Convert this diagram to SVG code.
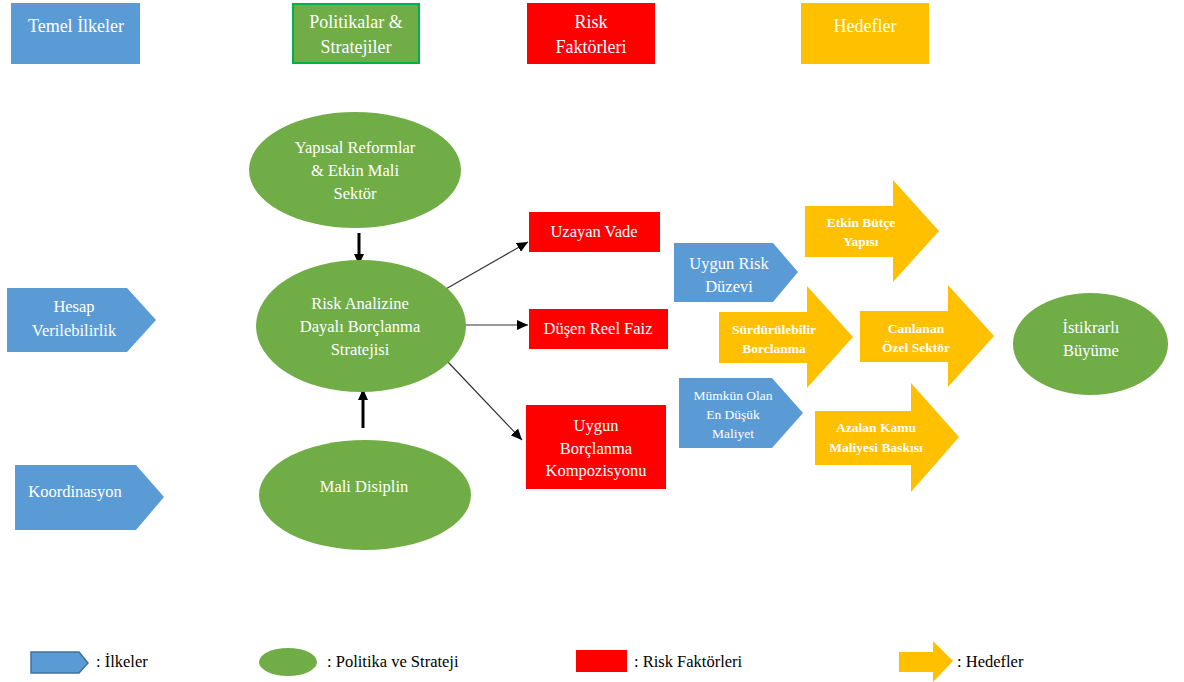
<svg xmlns="http://www.w3.org/2000/svg" width="1184" height="682" viewBox="0 0 1184 682" font-family="'Liberation Serif', 'DejaVu Serif', serif">
<defs>
<style>
text{text-anchor:middle;fill:#fff}
.h{font-size:18px}
.t{font-size:16.5px}
.s{font-size:13.5px}
.b{font-size:13.5px;font-weight:bold}
.lg{font-size:16.5px;fill:#000;text-anchor:start}
.blue{fill:#5B9BD5}
.green{fill:#70AD47}
.red{fill:#FF0000}
.amber{fill:#FFC000}
.thin{stroke:#333;stroke-width:1.2;fill:none}
.thick{stroke:#000;stroke-width:3;fill:none}
</style>
<marker id="ah" markerUnits="userSpaceOnUse" markerWidth="12" markerHeight="10" refX="11" refY="5" orient="auto">
<path d="M0,0 L11,5 L0,10 Z" fill="#000"/>
</marker>
</defs>
<rect width="1184" height="682" fill="#fff"/>

<g id="hdr-temel"><rect class="blue" x="11" y="3" width="129" height="61"/><text class="h" x="76" y="32">Temel İlkeler</text></g>
<g id="hdr-politika"><rect class="green" x="293" y="4" width="126" height="59" stroke="#00B050" stroke-width="2"/><text class="h" x="356" y="28">Politikalar &amp;</text><text class="h" x="356" y="53">Stratejiler</text></g>
<g id="hdr-risk"><rect class="red" x="527" y="3" width="128" height="61"/><text class="h" x="591" y="28">Risk</text><text class="h" x="591" y="53">Faktörleri</text></g>
<g id="hdr-hedef"><rect class="amber" x="801" y="3" width="128" height="61"/><text class="h" x="865" y="32">Hedefler</text></g>

<g id="connectors">
<line class="thick" x1="359" y1="233" x2="359" y2="265" marker-end="url(#ah)"/>
<line class="thick" x1="363" y1="428" x2="363" y2="389" marker-end="url(#ah)"/>
<line class="thin" x1="444" y1="290" x2="528" y2="242" marker-end="url(#ah)"/>
<line class="thin" x1="466" y1="325" x2="528" y2="325" marker-end="url(#ah)"/>
<line class="thin" x1="447" y1="361" x2="522" y2="440" marker-end="url(#ah)"/>
</g>

<g id="hesap"><polygon class="blue" points="7,288 127,288 156,320 127,352 7,352"/><text class="t" x="74" y="312">Hesap</text><text class="t" x="74" y="336">Verilebilirlik</text></g>
<g id="koordinasyon"><polygon class="blue" points="15,465 136,465 164,497 136,530 15,530"/><text class="t" x="75" y="497">Koordinasyon</text></g>

<g id="yapisal"><ellipse class="green" cx="355" cy="170" rx="106" ry="58"/><text class="t" x="355" y="153">Yapısal Reformlar</text><text class="t" x="355" y="176">&amp; Etkin Mali</text><text class="t" x="355" y="199">Sektör</text></g>
<g id="riskanalizi"><ellipse class="green" cx="361" cy="326" rx="105" ry="66"/><text class="t" x="360" y="309">Risk Analizine</text><text class="t" x="360" y="332">Dayalı Borçlanma</text><text class="t" x="360" y="355">Stratejisi</text></g>
<g id="malidisiplin"><ellipse class="green" cx="365" cy="495" rx="106" ry="55"/><text class="t" x="364" y="492">Mali Disiplin</text></g>

<g id="uzayan"><rect class="red" x="529" y="212" width="131" height="40"/><text class="t" x="594" y="237">Uzayan Vade</text></g>
<g id="dusen"><rect class="red" x="529" y="309" width="139" height="40"/><text class="t" x="598" y="334">Düşen Reel Faiz</text></g>
<g id="kompozisyon"><rect class="red" x="526" y="405" width="140" height="84"/><text class="t" x="596" y="431">Uygun</text><text class="t" x="596" y="454">Borçlanma</text><text class="t" x="596" y="476">Kompozisyonu</text></g>

<g id="uygunrisk"><polygon class="blue" points="674,243 773,243 798,272 773,302 674,302"/><text class="t" x="729" y="269">Uygun Risk</text><text class="t" x="729" y="292">Düzevi</text></g>
<g id="mumkun"><polygon class="blue" points="679,378 772,378 803,413 772,448 679,448"/><text class="s" x="733" y="400">Mümkün Olan</text><text class="s" x="733" y="419">En Düşük</text><text class="s" x="733" y="438">Maliyet</text></g>

<g id="etkinbutce"><polygon class="amber" points="805,206 893,206 893,180 939,231 893,282 893,257 805,257"/><text class="b" x="861" y="227">Etkin Bütçe</text><text class="b" x="861" y="246">Yapısı</text></g>
<g id="surdurulebilir"><polygon class="amber" points="719,312 807,312 807,286 853,337 807,388 807,363 719,363"/><text class="b" x="774" y="334">Sürdürülebilir</text><text class="b" x="774" y="353">Borclanma</text></g>
<g id="canlanan"><polygon class="amber" points="860,311 948,311 948,285 994,336 948,387 948,362 860,362"/><text class="b" x="916" y="333">Canlanan</text><text class="b" x="916" y="352">Özel Sektör</text></g>
<g id="azalan"><polygon class="amber" points="815,411 911,411 911,383 959,437 911,492 911,465 815,465"/><text class="b" x="876" y="432">Azalan Kamu</text><text class="b" x="876" y="452">Maliyesi Baskısı</text></g>

<g id="istikrarli"><ellipse class="green" cx="1090.5" cy="344" rx="77.5" ry="51"/><text class="t" x="1091" y="333">İstikrarlı</text><text class="t" x="1091" y="356">Büyüme</text></g>

<g id="legend">
<polygon class="blue" points="31,652 79,652 88,663 79,673 31,673" stroke="#41719C" stroke-width="1.5"/>
<text class="lg" x="96" y="667">: İlkeler</text>
<ellipse class="green" cx="288" cy="662" rx="29" ry="14"/>
<text class="lg" x="327" y="667">: Politika ve Strateji</text>
<rect class="red" x="576" y="650" width="51" height="22"/>
<text class="lg" x="634" y="667">: Risk Faktörleri</text>
<polygon class="amber" points="899,652 933,652 933,641 953,661 933,682 933,672 899,672"/>
<text class="lg" x="957" y="667">: Hedefler</text>
</g>
</svg>
